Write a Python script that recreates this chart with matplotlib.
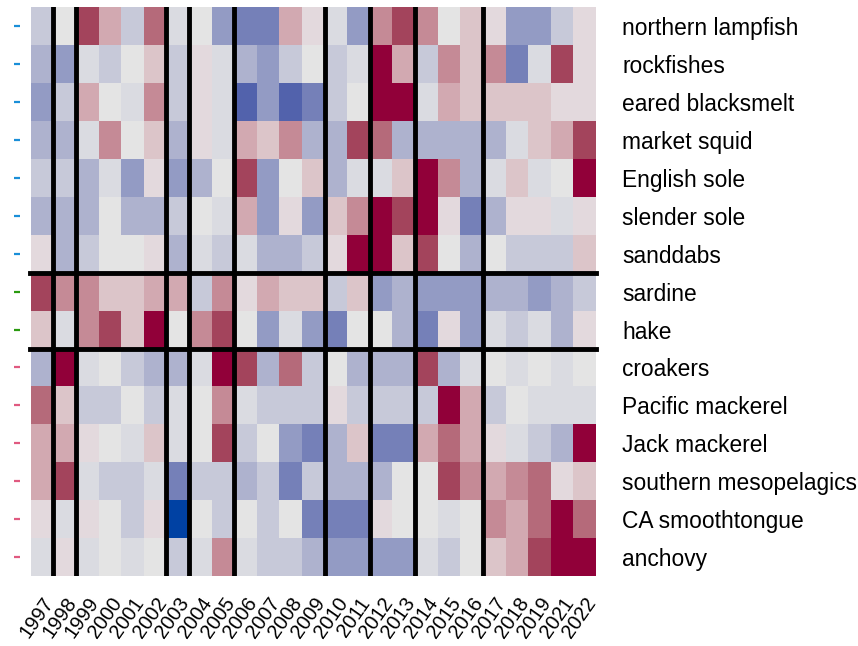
import matplotlib
matplotlib.use("Agg")
import matplotlib.pyplot as plt
import numpy as np
from matplotlib.colors import ListedColormap, BoundaryNorm

plt.rcParams["font.family"] = ["Liberation Sans", "DejaVu Sans"]

years = ["1997", "1998", "1999", "2000", "2001", "2002", "2003", "2004", "2005",
         "2006", "2007", "2008", "2009", "2010", "2011", "2012", "2013", "2014",
         "2015", "2016", "2017", "2018", "2019", "2021", "2022"]

# species in three groups (blue / green / red markers on the left)
group1_species = ["northern lampfish", "rockfishes", "eared blacksmelt", "market squid",
                  "English sole", "slender sole", "sanddabs"]
group2_species = ["sardine", "hake"]
group3_species = ["croakers", "Pacific mackerel", "Jack mackerel",
                  "southern mesopelagics", "CA smoothtongue", "anchovy"]

# anomaly level per year, -7 (strong blue) .. 7 (strong red)
group1_values = [
    [-2, 0, 6, 3, -2, 5, -1, 0, -4, -5, -5, 3, 1, -1, -4, 4, 6, 4, 0, 2, 1, -4, -4, -2, 1],
    [-3, -4, -1, -2, 0, 2, -2, 1, -1, -3, -4, -2, 0, -2, -1, 7, 3, -2, 4, 2, 4, -5, -1, 6, 1],
    [-4, -2, 3, 0, -1, 4, -2, 1, -1, -6, -4, -6, -5, -2, 0, 7, 7, -1, 3, 2, 2, 2, 2, 1, 1],
    [-3, -3, -1, 4, 0, 2, -3, 1, -1, 3, 2, 4, -3, -3, 6, 5, -3, -3, -3, -3, -3, -1, 2, 3, 6],
    [-2, -2, -3, -1, -4, 1, -4, -3, 0, 6, -4, 0, 2, -3, -1, -1, 2, 7, 4, -3, -1, 2, -1, 0, 7],
    [-3, -3, -3, 0, -3, -3, -2, 0, -1, 3, -4, 1, -4, 2, 4, 7, 6, 7, 1, -5, -3, 1, 1, -1, 1],
    [1, -3, -2, 0, 0, 1, -3, -1, -2, -1, -3, -3, -2, 1, 7, 7, 2, 6, 0, -3, 0, -2, -2, -2, 2],
]
group2_values = [
    [6, 4, 4, 2, 2, 3, 3, -2, 4, 1, 3, 2, 2, -2, 2, -4, -3, -4, -4, -4, -3, -3, -4, -3, -2],
    [2, -1, 4, 6, 2, 7, 0, 4, 6, 0, -4, -1, -4, -5, 0, 0, -3, -5, 1, -4, -1, -2, -1, -3, 1],
]
group3_values = [
    [-3, 7, -1, 0, -2, -3, -3, -1, 7, 6, -3, 5, -2, 0, -3, -3, -3, 6, -3, -1, 0, -1, 0, -1, 0],
    [5, 2, -2, -2, 0, -2, -1, 0, 4, -1, -2, -2, -2, 1, -2, -2, -2, -2, 7, 3, -2, 0, -1, -1, -1],
    [3, 3, 1, 0, -1, 2, -1, 0, 6, -2, 0, -4, -5, -3, 2, -5, -5, 3, 5, 3, 1, -1, -2, -3, 7],
    [3, 6, -1, -2, -2, -1, -5, -2, -2, -3, -2, -5, -2, -3, -3, -3, 0, 0, 6, 4, 3, 4, 5, 1, 2],
    [1, -1, 1, 0, -2, 1, -7, 0, -2, 0, -2, 0, -5, -5, -5, 1, 0, 0, -1, 0, 4, 3, 5, 7, 5],
    [-1, 1, -1, 0, -1, 0, -2, -1, 4, -1, -2, -2, -3, -4, -4, -4, -4, -1, -2, 0, 2, 3, 6, 7, 7],
]

group_colors = ["#1a8fd8", "#2a9a10", "#e05a80"]

# vertical separators drawn after these years
split_after = ["1997", "1998", "2002", "2003", "2005", "2009", "2011", "2013", "2016"]

palette = ["#0041a3", "#5262ac", "#7580b8", "#939bc4", "#aeb2ce", "#c7c9d9", "#dadbe1",
           "#e4e4e4",
           "#e3d9dd", "#dcc5c9", "#d2a9b1", "#c58a96", "#b56a7a", "#a3445c", "#910039"]
cmap = ListedColormap(palette)
norm = BoundaryNorm(np.arange(-7.5, 8.5, 1), cmap.N)

species = group1_species + group2_species + group3_species
values = np.array(group1_values + group2_values + group3_values)
marker_colors = ([group_colors[0]] * len(group1_species) + [group_colors[1]] * len(group2_species)
                 + [group_colors[2]] * len(group3_species))

fig = plt.figure(figsize=(8.58, 6.46), dpi=100)
ax = fig.add_axes([30.7 / 858, 1 - 576 / 646, (596 - 30.7) / 858, (576 - 7.3) / 646])

ax.pcolormesh(np.arange(len(years) + 1), np.arange(len(species) + 1), values,
              cmap=cmap, norm=norm)
ax.set_xlim(0, len(years))
ax.set_ylim(len(species), 0)

# black separators
for yr in split_after:
    ax.axvline(years.index(yr) + 1, color="black", lw=3.5)
for n in [len(group1_species), len(group1_species) + len(group2_species)]:
    ax.axhline(n, color="black", lw=3.5, xmin=-0.002, xmax=1.0, clip_on=False)

ax.set_xticks(np.arange(len(years)) + 0.5)
ax.set_xticklabels(years, rotation=55, ha="right", rotation_mode="anchor", fontsize=14.5)
ax.set_yticks(np.arange(len(species)) + 0.5)
ax.set_yticklabels(species, fontsize=16.4)
ax.yaxis.tick_right()
ax.tick_params(axis="y", length=0, pad=19)
ax.tick_params(axis="x", length=0, pad=13)
for spine in ax.spines.values():
    spine.set_visible(False)

# small coloured dashes on the left
trans = ax.get_yaxis_transform()
for i, c in enumerate(marker_colors):
    ax.plot([-0.029, -0.019], [i + 0.5, i + 0.5], color=c, lw=1.6,
            transform=trans, clip_on=False, solid_capstyle="butt")

fig.savefig("out.png", dpi=100)
